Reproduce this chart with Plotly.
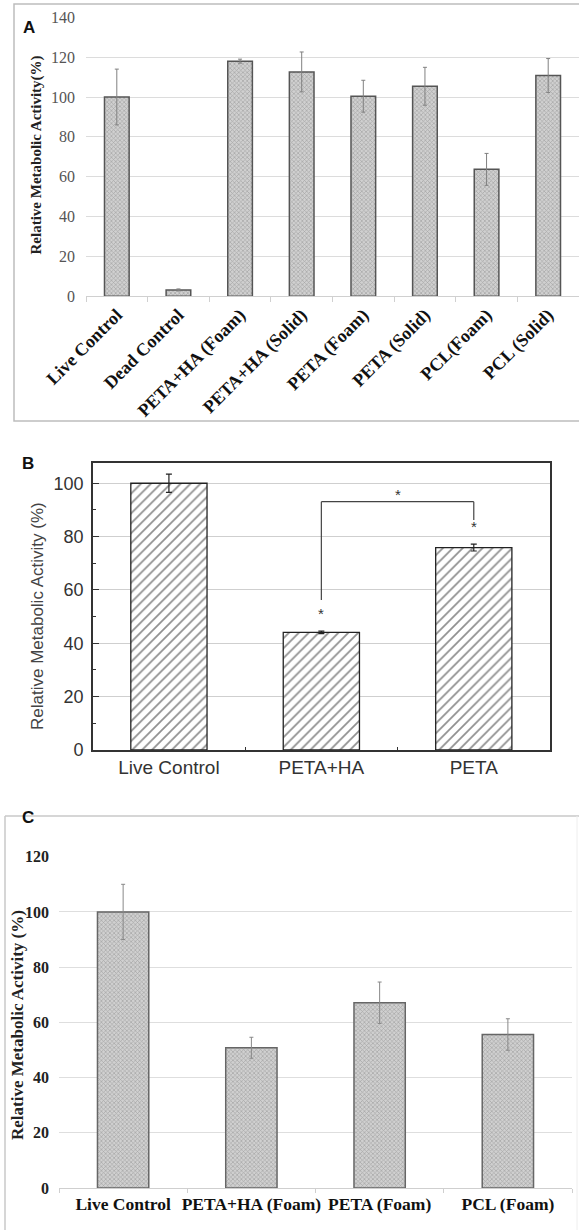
import plotly.graph_objects as go

W, H = 579, 1230

# ---------------- data ----------------
a_cats = ["Live Control", "Dead Control", "PETA+HA (Foam)", "PETA+HA (Solid)",
          "PETA (Foam)", "PETA (Solid)", "PCL(Foam)", "PCL (Solid)"]
a_vals = [100, 3.2, 118, 112.6, 100.4, 105.4, 63.7, 110.8]
a_errs = [14, 0.5, 1, 10, 8, 9.5, 8, 8.5]

b_cats = ["Live Control", "PETA+HA", "PETA"]
b_vals = [100, 44.1, 75.9]
b_errs = [3.4, 0.5, 1.3]
b_stars = [("PETA+HA", 51), ("PETA", 83.7)]
b_bracket = dict(left="PETA+HA", right="PETA", top=93.1, left_end=56.2, right_end=86.2, star=95.6)

c_cats = ["Live Control", "PETA+HA (Foam)", "PETA (Foam)", "PCL (Foam)"]
c_vals = [100, 50.8, 67.1, 55.6]
c_errs = [10, 3.8, 7.5, 5.7]

SERIF = "Liberation Serif, Times New Roman, serif"
SANS = "Liberation Sans, Arial, sans-serif"


def dx(a, b):
    return [a / W, min(b / W, 1.0)]


def dy(top, bottom):
    return [1 - bottom / H, 1 - top / H]


fig = go.Figure()

gray_pattern = dict(shape="x", size=3, solidity=0.4, fgcolor="#a6a6a6", bgcolor="#d0d0d0", fillmode="replace")

# Panel A
fig.add_trace(go.Bar(
    x=a_cats, y=a_vals, width=0.4, xaxis="x", yaxis="y",
    marker=dict(color="#c8c8c8", pattern=gray_pattern, line=dict(color="#555", width=1.5)),
    error_y=dict(type="data", array=a_errs, visible=True, color="#808080", thickness=1, width=2),
    showlegend=False, hoverinfo="skip",
))

# Panel B
fig.add_trace(go.Bar(
    x=b_cats, y=b_vals, width=0.5, xaxis="x2", yaxis="y2",
    marker=dict(color="white", pattern=dict(shape="/", size=7, solidity=0.25, fgcolor="#222", bgcolor="white"),
                line=dict(color="#222", width=1.3)),
    error_y=dict(type="data", array=b_errs, visible=True, color="#222", thickness=1.2, width=3),
    showlegend=False, hoverinfo="skip",
))

# Panel C
fig.add_trace(go.Bar(
    x=c_cats, y=c_vals, width=0.4, xaxis="x3", yaxis="y3",
    marker=dict(color="#c8c8c8", pattern=gray_pattern, line=dict(color="#666", width=1.5)),
    error_y=dict(type="data", array=c_errs, visible=True, color="#888", thickness=1, width=2),
    showlegend=False, hoverinfo="skip",
))

fig.update_layout(
    width=W, height=H, margin=dict(l=0, r=0, t=0, b=0, autoexpand=False),
    paper_bgcolor="white", plot_bgcolor="white",
    xaxis=dict(domain=dx(86, 579), anchor="y", range=[-0.5, 7.5], tickangle=-45, automargin=False,
               tickson="boundaries", ticks="outside", ticklen=5, tickcolor="#d0d0d0",
               showline=True, linecolor="#d0d0d0", linewidth=1, showgrid=False,
               tickfont=dict(family=SERIF, size=18, color="#111", weight="bold")),
    yaxis=dict(domain=dy(17.3, 296.3), anchor="x", range=[0, 140], dtick=20, automargin=False,
               showgrid=True, gridcolor="#dcdcdc", gridwidth=1, showline=False, zeroline=False,
               ticks="", ticklabelstandoff=10,
               tickfont=dict(family=SERIF, size=16, color="#555")),
    xaxis2=dict(domain=dx(92.7, 550), anchor="y2", range=[-0.5, 2.5], tickangle=0, automargin=False,
                tickson="boundaries", ticks="inside", ticklen=3, tickcolor="#333",
                showline=True, mirror=True, linecolor="#333", linewidth=1.5, showgrid=False,
                tickfont=dict(family=SANS, size=19, color="#333")),
    yaxis2=dict(domain=dy(462.7, 750), anchor="x2", range=[0, 107.7], dtick=20, automargin=False,
                showgrid=True, gridcolor="#cfcfcf", gridwidth=1, zeroline=False,
                showline=True, mirror=True, linecolor="#333", linewidth=1.5,
                ticks="inside", ticklen=6, tickcolor="#333", ticklabelstandoff=4,
                minor=dict(ticks="inside", ticklen=3, dtick=10, tickcolor="#333", showgrid=False),
                tickfont=dict(family=SANS, size=18, color="#333")),
    xaxis3=dict(domain=dx(59, 572), anchor="y3", range=[-0.5, 3.5], tickangle=0, automargin=False,
                tickson="boundaries", ticks="outside", ticklen=4, tickcolor="#cfcfcf",
                showline=True, linecolor="#cfcfcf", linewidth=1, showgrid=False,
                tickfont=dict(family=SERIF, size=17.5, color="#111", weight="bold")),
    yaxis3=dict(domain=dy(856.7, 1188), anchor="x3", range=[0, 120], dtick=20, automargin=False,
                showgrid=True, gridcolor="#dedede", gridwidth=1, zeroline=False, showline=False,
                ticks="", ticklabelstandoff=9,
                tickfont=dict(family=SERIF, size=16, color="#222", weight="bold")),
)

shapes = [
    # Panel A frame
    dict(type="rect", xref="paper", yref="paper", x0=14 / W, x1=582 / W, y0=1 - 421 / H, y1=1 - 4 / H,
         line=dict(color="#bdbdbd", width=1.5), fillcolor="rgba(0,0,0,0)", layer="below"),
    # Panel C frame (top, left, right)
    dict(type="line", xref="paper", yref="paper", x0=5 / W, x1=579 / W, y0=1 - 816 / H, y1=1 - 816 / H,
         line=dict(color="#c8c8c8", width=1.5)),
    dict(type="line", xref="paper", yref="paper", x0=5 / W, x1=5 / W, y0=1 - 816 / H, y1=0,
         line=dict(color="#c8c8c8", width=1.5)),
    dict(type="line", xref="paper", yref="paper", x0=577 / W, x1=577 / W, y0=1 - 816 / H, y1=0,
         line=dict(color="#eeeeee", width=1)),
]

br = b_bracket
shapes += [
    dict(type="line", xref="x2", yref="y2", x0=br["left"], x1=br["left"], y0=br["left_end"], y1=br["top"],
         line=dict(color="#444", width=1.2)),
    dict(type="line", xref="x2", yref="y2", x0=br["left"], x1=br["right"], y0=br["top"], y1=br["top"],
         line=dict(color="#444", width=1.2)),
    dict(type="line", xref="x2", yref="y2", x0=br["right"], x1=br["right"], y0=br["top"], y1=br["right_end"],
         line=dict(color="#444", width=1.2)),
]
fig.update_layout(shapes=shapes)


def ann(text, x, y, size, family, color, angle=0):
    return dict(text=text, xref="paper", yref="paper", x=x / W, y=1 - y / H, xanchor="center",
                yanchor="middle", textangle=angle, showarrow=False,
                font=dict(family=family, size=size, color=color))


annotations = [
    ann("<b>A</b>", 28.5, 28, 17, SANS, "#111"),
    ann("<b>B</b>", 28, 463.5, 17, SANS, "#111"),
    ann("<b>C</b>", 28, 817.5, 17, SANS, "#111"),
    ann("<b>Relative Metabolic Activity(%)</b>", 36, 155.5, 15, SERIF, "#222", -90),
    ann("Relative Metabolic Activity (%)", 37, 616, 17, SANS, "#444", -90),
    ann("<b>Relative Metabolic Activity (%)</b>", 17, 1025, 17, SERIF, "#222", -90),
]
for cat, yv in b_stars:
    annotations.append(dict(text="*", xref="x2", yref="y2", x=cat, y=yv, showarrow=False,
                            font=dict(family=SANS, size=15, color="#333")))
annotations.append(dict(text="*", xref="x2", yref="y2", x=1.5, y=br["star"], showarrow=False,
                        font=dict(family=SANS, size=15, color="#333")))
fig.update_layout(annotations=annotations)

fig.write_html("out.html", post_script="document.body.style.margin='0px';",
               config={"displayModeBar": False, "staticPlot": True})
